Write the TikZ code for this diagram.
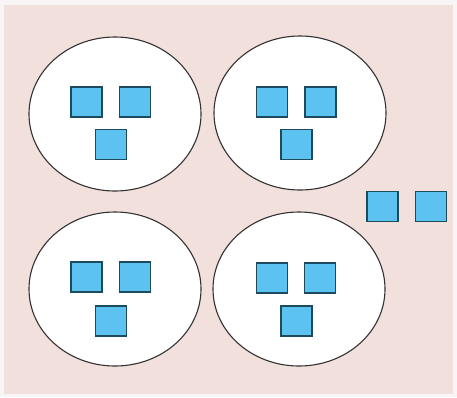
\documentclass[tikz,border=0pt]{standalone}
\usetikzlibrary{shapes.geometric}
\definecolor{bgpink}{HTML}{F1E0DC}
\definecolor{outer}{HTML}{F7F5F5}
\definecolor{sqfill}{HTML}{5CC2F0}
\definecolor{sqdraw}{HTML}{1D4A5C}
\definecolor{ringdraw}{HTML}{333333}
\tikzset{
  ring/.style={ellipse, draw=ringdraw, line width=1.1pt, fill=white, minimum width=172pt, minimum height=154pt, inner sep=0pt},
  sq/.style={rectangle, draw=sqdraw, line width=1.3pt, fill=sqfill, minimum width=31pt, minimum height=30pt, inner sep=0pt}
}
\begin{document}
\begin{tikzpicture}[x=1pt,y=-1pt]
\fill[outer] (0,0) rectangle (457,397);
\useasboundingbox (0,0) rectangle (457,397);
\fill[bgpink] (4,5) rectangle (453,394);
% ellipses
\node[ring] (e1) at (115,114) {};
\node[ring] (e2) at (300,113) {};
\node[ring] (e3) at (115,289) {};
\node[ring] (e4) at (299,289) {};
% squares in e1
\node[sq] (a1) at (86.5,102) {};
\node[sq] (b1) at (135,102) {};
\node[sq] (c1) at (111,144.5) {};
% squares in e2
\node[sq] (a2) at (272,102) {};
\node[sq] (b2) at (320.5,102) {};
\node[sq] (c2) at (296.5,144.5) {};
% squares in e3
\node[sq] (a3) at (86.5,277) {};
\node[sq] (b3) at (135,277) {};
\node[sq] (c3) at (111,321) {};
% squares in e4
\node[sq] (a4) at (272,278) {};
\node[sq] (b4) at (320,278) {};
\node[sq] (c4) at (296.5,321) {};
% free squares
\node[sq] (f1) at (382.5,206.5) {};
\node[sq] (f2) at (431,206.5) {};
\end{tikzpicture}
\end{document}
